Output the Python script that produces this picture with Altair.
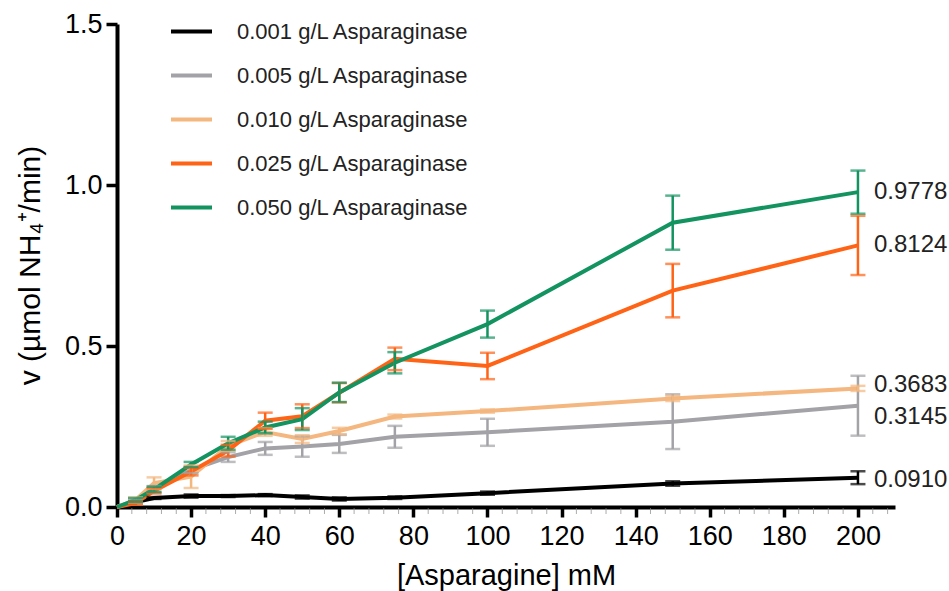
import altair as alt
import pandas as pd

# ---- data ----
conc = [0, 5, 10, 20, 30, 40, 50, 60, 75, 100, 150, 200]
series = ["0.001 g/L Asparaginase", "0.005 g/L Asparaginase", "0.010 g/L Asparaginase",
          "0.025 g/L Asparaginase", "0.050 g/L Asparaginase"]
colors = ["#000000", "#a3a3a7", "#f4b77f", "#ff6316", "#12935f"]

v_001 = [0, 0.015, 0.028, 0.034, 0.034, 0.037, 0.031, 0.025, 0.029, 0.043, 0.073, 0.0910]
v_005 = [0, 0.018, 0.055, 0.115, 0.155, 0.182, 0.188, 0.196, 0.218, 0.232, 0.265, 0.3145]
v_010 = [0, 0.022, 0.074, 0.094, 0.190, 0.233, 0.211, 0.236, 0.281, 0.298, 0.337, 0.3683]
v_025 = [0, 0.012, 0.050, 0.110, 0.175, 0.268, 0.282, 0.355, 0.460, 0.438, 0.672, 0.8124]
v_050 = [0, 0.022, 0.055, 0.132, 0.198, 0.247, 0.273, 0.356, 0.448, 0.568, 0.883, 0.9778]

e_001 = [0, 0.003, 0.003, 0.005, 0.003, 0.003, 0.005, 0.005, 0.004, 0.005, 0.007, 0.020]
e_005 = [0, 0.005, 0.010, 0.010, 0.015, 0.020, 0.032, 0.028, 0.034, 0.042, 0.085, 0.093]
e_010 = [0, 0.008, 0.018, 0.035, 0.015, 0.012, 0.012, 0.010, 0.006, 0.005, 0.008, 0.008]
e_025 = [0, 0.005, 0.008, 0.012, 0.018, 0.025, 0.037, 0.030, 0.035, 0.041, 0.083, 0.092]
e_050 = [0, 0.006, 0.008, 0.008, 0.020, 0.018, 0.034, 0.030, 0.033, 0.042, 0.084, 0.067]

end_labels = ["0.0910", "0.3145", "0.3683", "0.8124", "0.9778"]

x_major = list(range(0, 201, 20))
x_minor = [t for t in range(4, 209, 4) if t % 20 != 0]
y_major = [0, 0.5, 1.0, 1.5]

values = [v_001, v_005, v_010, v_025, v_050]
errors = [e_001, e_005, e_010, e_025, e_050]

rows = []
for s, vals, errs in zip(series, values, errors):
    for c, v, e in zip(conc, vals, errs):
        rows.append({"series": s, "conc": c, "v": v, "lo": v - e, "hi": v + e, "err": e})
df = pd.DataFrame(rows)

caps = []
for r in rows:
    if r["err"] > 0:
        caps.append({"series": r["series"], "conc": r["conc"], "y": r["lo"]})
        caps.append({"series": r["series"], "conc": r["conc"], "y": r["hi"]})
caps_df = pd.DataFrame(caps)

ends = pd.DataFrame({"series": series, "conc": [conc[-1]] * 5,
                     "v": [vals[-1] for vals in values], "label": end_labels})

minor_df = pd.DataFrame({"conc": x_minor, "v": [0] * len(x_minor)})

FONT = "Liberation Sans"

color_scale = alt.Scale(domain=series, range=colors)
x_scale = alt.Scale(domain=[0, 210], nice=False)
y_scale = alt.Scale(domain=[0, 1.5], nice=False)

x_axis = alt.Axis(
    values=x_major, tickSize=10, tickWidth=3.5,
    labelPadding=6, labelFlush=False, title="[Asparagine] mM",
    titleX=389, titleY=77, titleBaseline="alphabetic", titleAlign="center",
    titleFontSize=29, grid=False,
)
y_axis = alt.Axis(
    values=y_major, format=".1f", tickSize=11, tickWidth=3.5,
    labelPadding=4, title="v (µmol NH₄⁺/min)",
    titleX=-87, titleY=241, titleAngle=270, titleAlign="center", titleBaseline="middle",
    titleFontSize=30, grid=False,
)

base = alt.Chart(df)

lines = base.mark_line(strokeWidth=4).encode(
    x=alt.X("conc:Q", scale=x_scale, axis=x_axis),
    y=alt.Y("v:Q", scale=y_scale, axis=y_axis),
    color=alt.Color("series:N", scale=color_scale, sort=series, legend=alt.Legend(
        title=None, orient="none", legendX=52, legendY=-15, symbolType="stroke",
        symbolSize=1681, symbolStrokeWidth=4, labelFontSize=22, labelFont=FONT,
        labelColor="#222222", labelOffset=23, rowPadding=10, padding=0,
        labelLimit=400)),
    order=alt.Order("conc:Q"),
)

minor = alt.Chart(minor_df).mark_tick(
    orient="vertical", size=6, thickness=1, yOffset=4, color="#888888"
).encode(x="conc:Q", y="v:Q")

bars = base.transform_filter("datum.err > 0").mark_rule(strokeWidth=2.5).encode(
    x="conc:Q", y="lo:Q", y2="hi:Q",
    color=alt.Color("series:N", scale=color_scale, legend=None),
)

capmarks = alt.Chart(caps_df).mark_tick(orient="horizontal", size=15, thickness=2.5).encode(
    x="conc:Q", y="y:Q",
    color=alt.Color("series:N", scale=color_scale, legend=None),
)

dys = [2, 11, -3, 0, 0]
texts = []
for s, dy in zip(series, dys):
    texts.append(
        alt.Chart(ends).transform_filter(alt.datum.series == s).mark_text(
            align="left", baseline="middle", dx=16, dy=dy, fontSize=24, font=FONT,
            color="#222222").encode(x="conc:Q", y="v:Q", text="label:N")
    )

chart = alt.layer(lines, minor, bars, capmarks, *texts).properties(
    width=778, height=483,
    autosize=alt.AutoSizeParams(type="none"),
    padding={"left": 117, "top": 24, "right": 54, "bottom": 84},
    background="white",
).configure_view(stroke=None).configure_axis(
    grid=False, domainColor="#000000", domainWidth=4, tickColor="#000000",
    labelFont=FONT, labelFontSize=27, labelColor="#000000",
    titleFont=FONT, titleFontWeight="normal", titleColor="#000000",
)

chart.save("out.html", embed_options={"renderer": "svg", "actions": False})
